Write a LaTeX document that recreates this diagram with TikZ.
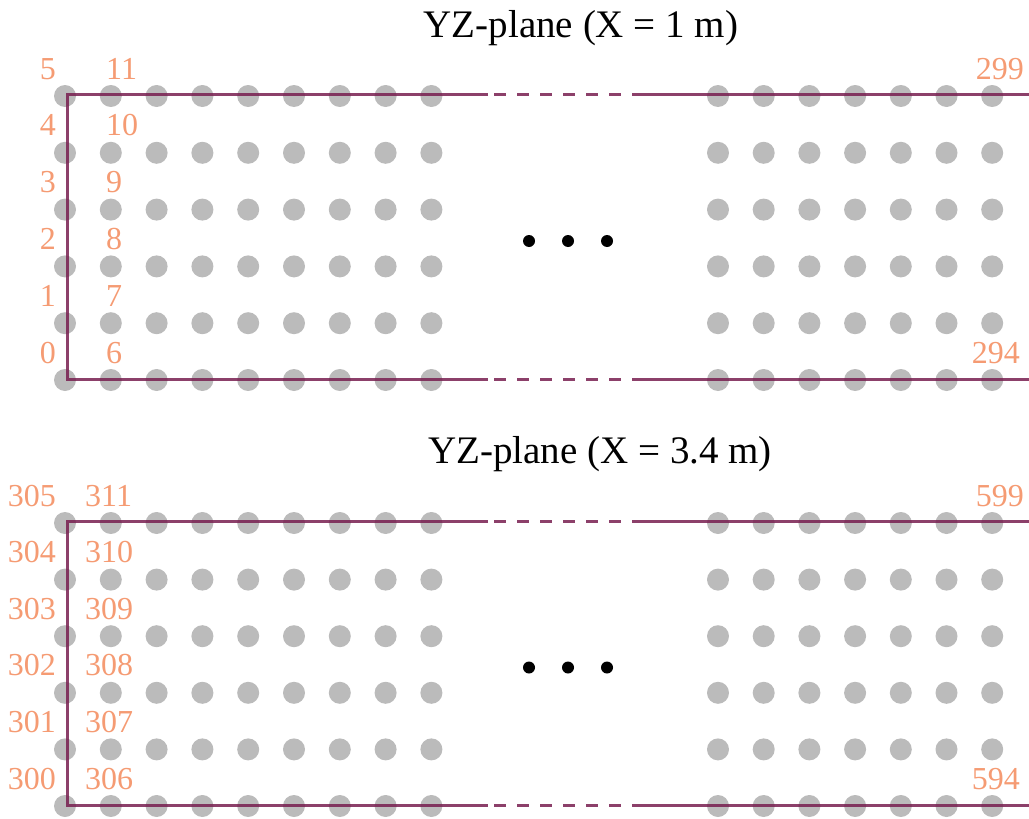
\documentclass[tikz,border=0pt]{standalone}
\usepackage{fontspec}
\setmainfont{Liberation Serif}
\usepackage{xcolor}
\usepackage{tikz}
\usetikzlibrary{positioning}

\definecolor{probegray}{RGB}{187,187,187}
\definecolor{framepurple}{RGB}{120,30,80}
\definecolor{idorange}{RGB}{245,155,115}

\begin{document}
\begin{tikzpicture}[
  x=1pt, y=-1pt,
  probe/.style={circle, fill=probegray, minimum size=22pt, inner sep=0pt},
  more/.style={circle, fill=black, minimum size=12pt, inner sep=0pt},
  frame/.style={draw=framepurple, draw opacity=0.85, line width=3pt},
  framegap/.style={frame, dash pattern=on 12pt off 11pt},
  idlabel/.style={text=idorange, inner sep=0pt, font=\fontsize{32}{32}\selectfont},
  planetitle/.style={inner sep=0pt, font=\fontsize{39}{39}\selectfont}
]
\useasboundingbox (0,0) rectangle (1029,819);

% two planes: name / top row / bottom row / first id / title / title x / title base / x of 2nd-column ids
\foreach \pl/\top/\bot/\first/\xval/\tx/\ty/\ix in {a/96/380/0/{1 m}/581/37/106, b/523/806/300/{3.4 m}/600/463/85}{
  \node[planetitle, anchor=base] (\pl-title) at (\tx,\ty) {YZ-plane (X = \xval)};

  % probe grid
  \foreach \r in {0,...,5}{
    \pgfmathsetmacro\rowy{\bot-\r*(\bot-\top)/5}
    \foreach \c in {0,...,8}
      \node[probe] (\pl-l-\c-\r) at (65+\c*45.8,\rowy) {};
    \foreach \c in {0,...,6}
      \node[probe] (\pl-r-\c-\r) at (718+\c*45.7,\rowy) {};
    \pgfmathtruncatemacro\ida{\first+\r}
    \pgfmathtruncatemacro\idb{\first+6+\r}
    \node[idlabel, anchor=base east] (\pl-id-\r) at (56,\rowy-17) {\ida};
    \node[idlabel, anchor=base west] (\pl-idb-\r) at (\ix,\rowy-17) {\idb};
  }
  \pgfmathtruncatemacro\idtop{\first+299}
  \pgfmathtruncatemacro\idbot{\first+294}
  \node[idlabel, anchor=base east] (\pl-idtop) at (1024,\top-17) {\idtop};
  \node[idlabel, anchor=base east] (\pl-idbot) at (1020,\bot-17) {\idbot};

  % skipped columns
  \pgfmathsetmacro\midy{(\top+\bot)/2+3}
  \foreach \k/\mx in {0/529,1/568,2/607}
    \node[more] (\pl-more-\k) at (\mx,\midy) {};

  % frame of the plane
  \coordinate (\pl-tl) at (67,\top-2);
  \coordinate (\pl-bl) at (67,\bot-1);
  \draw[frame] (488,\top-2) -- (\pl-tl) -- (\pl-bl) -- (488,\bot-1);
  \draw[framegap] (494,\top-2) -- (633,\top-2);
  \draw[framegap] (494,\bot-1) -- (633,\bot-1);
  \draw[frame] (633,\top-2) -- (1029,\top-2);
  \draw[frame] (633,\bot-1) -- (1029,\bot-1);
}

\end{tikzpicture}
\end{document}
